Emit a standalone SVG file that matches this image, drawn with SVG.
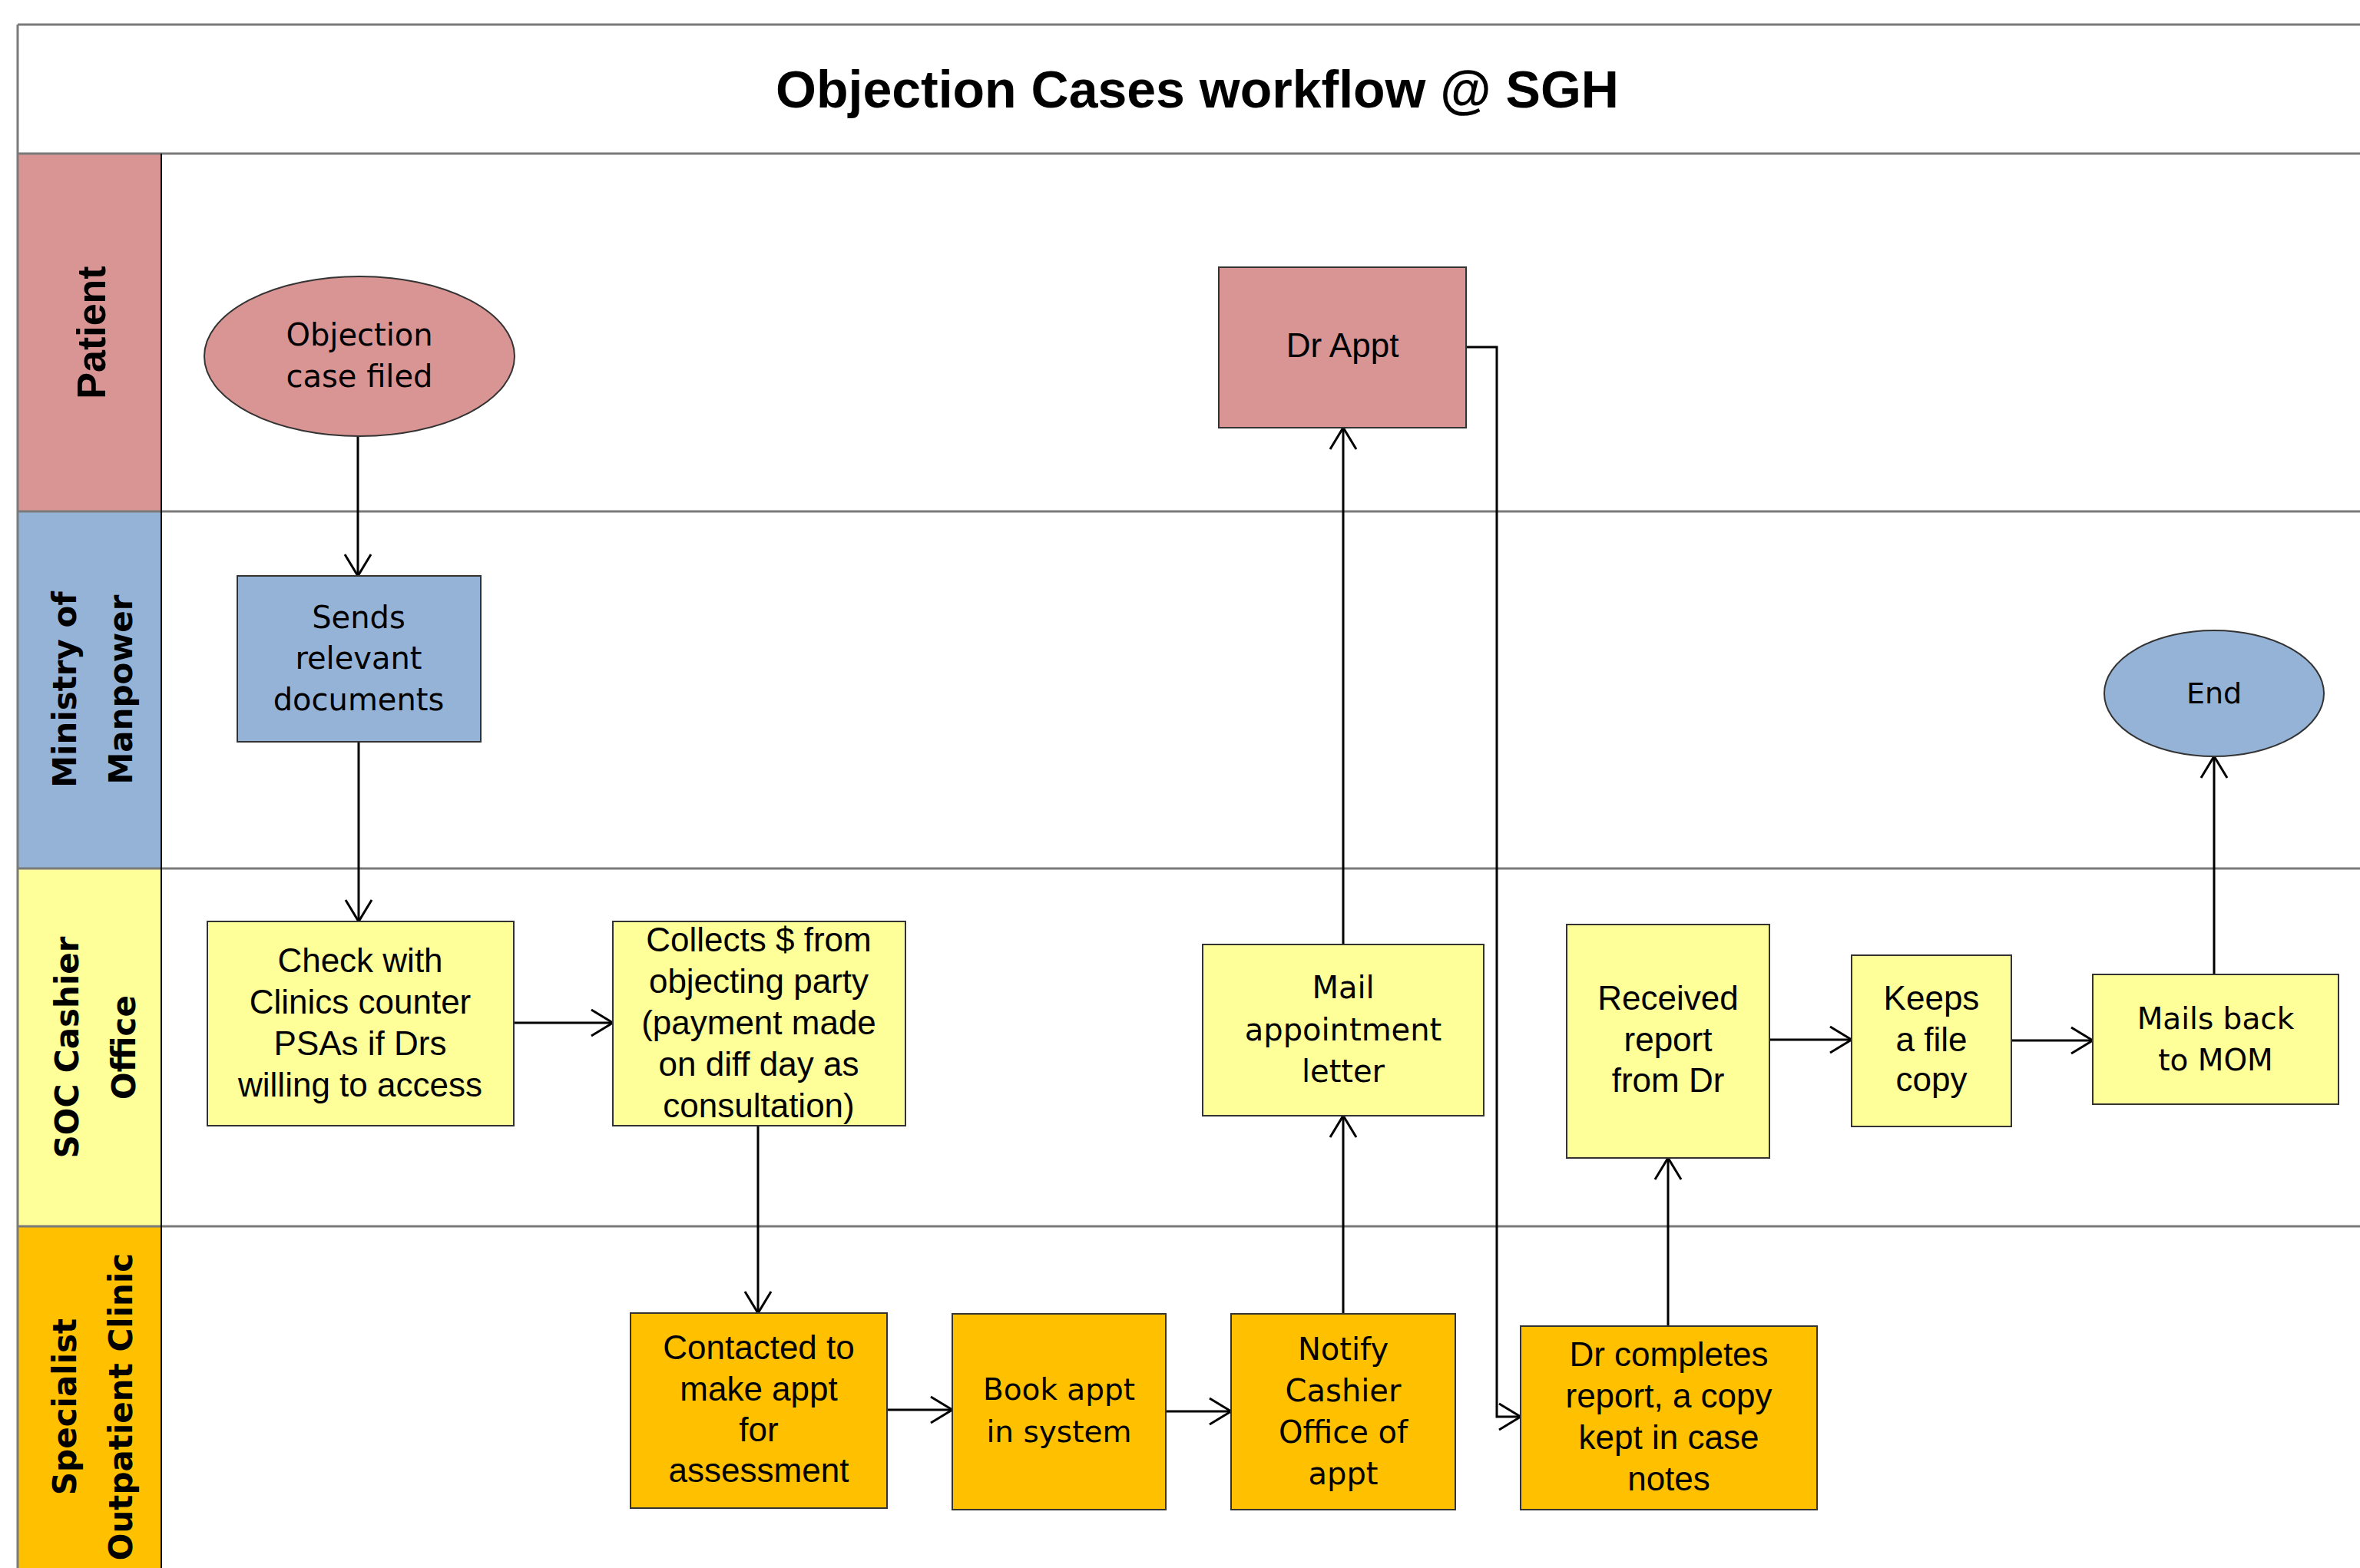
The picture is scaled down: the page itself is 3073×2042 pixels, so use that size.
<svg xmlns="http://www.w3.org/2000/svg" width="3073" height="2042" viewBox="0 0 3073 2042">
<style>
.node{stroke:#333;stroke-width:2}
.pink{fill:#D99594}.blue{fill:#95B3D7}.pale{fill:#FFFF99}.amber{fill:#FFC000}
.sep{stroke:#7a7a7a;stroke-width:3;fill:none}
.conn path{stroke:#000;stroke-width:3;fill:none}
.v{font-family:"DejaVu Sans",Verdana,sans-serif;fill:#000;text-anchor:middle}
.c{font-family:"Liberation Sans",Arial,sans-serif;fill:#000;text-anchor:middle;font-size:44px}
.lane{font-family:"DejaVu Sans",Verdana,sans-serif;font-weight:bold;font-size:42px;fill:#000;text-anchor:middle}
</style>
<defs>
<marker id="arr" markerUnits="userSpaceOnUse" markerWidth="40" markerHeight="40" refX="30" refY="18" orient="auto" overflow="visible">
<path d="M2,1 L30,18 L2,35" fill="none" stroke="#000" stroke-width="3"/>
</marker>
</defs>
<rect x="0" y="0" width="3073" height="2042" fill="#fff"/>
<g id="frame">
<rect x="23" y="200" width="187" height="466" class="pink"/>
<rect x="23" y="666" width="187" height="465" class="blue"/>
<rect x="23" y="1131" width="187" height="466" class="pale"/>
<rect x="23" y="1597" width="187" height="445" class="amber"/>
<line x1="23" y1="32" x2="3073" y2="32" class="sep"/>
<line x1="23" y1="32" x2="23" y2="2042" class="sep"/>
<line x1="23" y1="200" x2="3073" y2="200" class="sep"/>
<line x1="23" y1="666" x2="3073" y2="666" class="sep"/>
<line x1="23" y1="1131" x2="3073" y2="1131" class="sep"/>
<line x1="23" y1="1597" x2="3073" y2="1597" class="sep"/>
<line x1="210" y1="200" x2="210" y2="2042" stroke="#000" stroke-width="2"/>
<text x="1559" y="140" font-family="Liberation Sans, Arial, sans-serif" font-weight="bold" font-size="68" text-anchor="middle">Objection Cases workflow @ SGH</text>
</g>
<g id="lanes">
<text transform="translate(137,433) rotate(-90)" font-family="Liberation Sans, Arial, sans-serif" font-weight="bold" font-size="52" text-anchor="middle">Patient</text>
<text class="lane" transform="translate(99,898) rotate(-90)">Ministry of</text>
<text class="lane" transform="translate(172,898) rotate(-90)">Manpower</text>
<text class="lane" transform="translate(102,1364) rotate(-90)">SOC Cashier</text>
<text class="lane" transform="translate(176,1364) rotate(-90)">Office</text>
<text class="lane" transform="translate(99,1832) rotate(-90)">Specialist</text>
<text class="lane" transform="translate(172,1832) rotate(-90)">Outpatient Clinic</text>
</g>
<g id="connectors" class="conn">
<path d="M466,568 V750" marker-end="url(#arr)"/>
<path d="M467,966 V1200" marker-end="url(#arr)"/>
<path d="M669,1332 H798" marker-end="url(#arr)"/>
<path d="M987,1466 V1710" marker-end="url(#arr)"/>
<path d="M1155,1836 H1240" marker-end="url(#arr)"/>
<path d="M1518,1838 H1603" marker-end="url(#arr)"/>
<path d="M1749,1711 V1453" marker-end="url(#arr)"/>
<path d="M1749,1230 V557" marker-end="url(#arr)"/>
<path d="M1909,452 H1949 V1845 H1980" marker-end="url(#arr)"/>
<path d="M2172,1727 V1508" marker-end="url(#arr)"/>
<path d="M2304,1354 H2411" marker-end="url(#arr)"/>
<path d="M2619,1355 H2725" marker-end="url(#arr)"/>
<path d="M2883,1269 V985" marker-end="url(#arr)"/>
</g>
<g id="n-objection">
<ellipse cx="468" cy="464" rx="202" ry="104" class="node pink"/>
<text class="v" font-size="40"><tspan x="468" y="450">Objection</tspan><tspan x="468" y="504">case filed</tspan></text>
</g>
<g id="n-sends">
<rect x="309" y="750" width="317" height="216" class="node blue"/>
<text class="v" font-size="40"><tspan x="467" y="818">Sends</tspan><tspan x="467" y="871">relevant</tspan><tspan x="467" y="925">documents</tspan></text>
</g>
<g id="n-check">
<rect x="270" y="1200" width="399" height="266" class="node pale"/>
<text class="c"><tspan x="469" y="1266">Check with</tspan><tspan x="469" y="1320">Clinics counter</tspan><tspan x="469" y="1374">PSAs if Drs</tspan><tspan x="469" y="1428">willing to access</tspan></text>
</g>
<g id="n-collects">
<rect x="798" y="1200" width="381" height="266" class="node pale"/>
<text class="c"><tspan x="988" y="1239">Collects $ from</tspan><tspan x="988" y="1293">objecting party</tspan><tspan x="988" y="1347">(payment made</tspan><tspan x="988" y="1401">on diff day as</tspan><tspan x="988" y="1455">consultation)</tspan></text>
</g>
<g id="n-contacted">
<rect x="821" y="1710" width="334" height="254" class="node amber"/>
<text class="c"><tspan x="988" y="1770">Contacted to</tspan><tspan x="988" y="1824">make appt</tspan><tspan x="988" y="1877">for</tspan><tspan x="988" y="1930">assessment</tspan></text>
</g>
<g id="n-book">
<rect x="1240" y="1711" width="278" height="255" class="node amber"/>
<text class="v" font-size="39"><tspan x="1379" y="1823">Book appt</tspan><tspan x="1379" y="1878">in system</tspan></text>
</g>
<g id="n-notify">
<rect x="1603" y="1711" width="292" height="255" class="node amber"/>
<text class="v" font-size="40"><tspan x="1749" y="1771">Notify</tspan><tspan x="1749" y="1825">Cashier</tspan><tspan x="1749" y="1879">Office of</tspan><tspan x="1749" y="1933">appt</tspan></text>
</g>
<g id="n-mail">
<rect x="1566" y="1230" width="366" height="223" class="node pale"/>
<text class="v" font-size="40"><tspan x="1749" y="1300">Mail</tspan><tspan x="1749" y="1355">appointment</tspan><tspan x="1749" y="1409">letter</tspan></text>
</g>
<g id="n-drappt">
<rect x="1587" y="348" width="322" height="209" class="node pink"/>
<text class="c" x="1748" y="465">Dr Appt</text>
</g>
<g id="n-drcompletes">
<rect x="1980" y="1727" width="386" height="239" class="node amber"/>
<text class="c"><tspan x="2173" y="1779">Dr completes</tspan><tspan x="2173" y="1833">report, a copy</tspan><tspan x="2173" y="1887">kept in case</tspan><tspan x="2173" y="1941">notes</tspan></text>
</g>
<g id="n-received">
<rect x="2040" y="1204" width="264" height="304" class="node pale"/>
<text class="c"><tspan x="2172" y="1315">Received</tspan><tspan x="2172" y="1369">report</tspan><tspan x="2172" y="1422">from Dr</tspan></text>
</g>
<g id="n-keeps">
<rect x="2411" y="1244" width="208" height="223" class="node pale"/>
<text class="c"><tspan x="2515" y="1315">Keeps</tspan><tspan x="2515" y="1369">a file</tspan><tspan x="2515" y="1421">copy</tspan></text>
</g>
<g id="n-mailsback">
<rect x="2725" y="1269" width="320" height="169" class="node pale"/>
<text class="v" font-size="39"><tspan x="2885" y="1340">Mails back</tspan><tspan x="2885" y="1394">to MOM</tspan></text>
</g>
<g id="n-end">
<ellipse cx="2883" cy="903" rx="143" ry="82" class="node blue"/>
<text class="v" font-size="38" x="2883" y="916">End</text>
</g>
</svg>
